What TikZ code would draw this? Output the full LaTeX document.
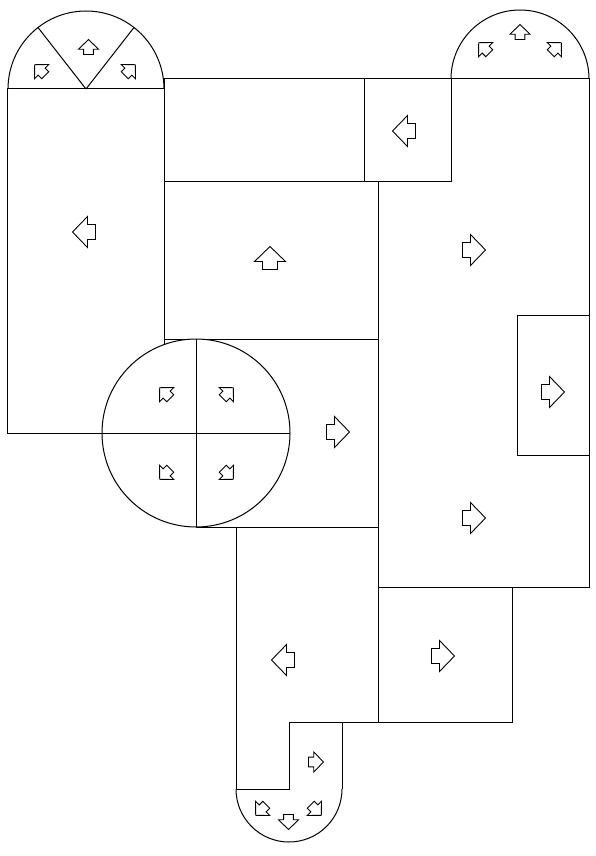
\documentclass[tikz,border=0pt]{standalone}
\begin{document}
\begin{tikzpicture}[x=1pt,y=-1pt,line width=1pt,line join=miter,
  arr/.pic={\draw[line width=0.9pt] (11.5,0) -- (-3.5,15.5) -- (-3.5,7.5) -- (-11.5,7.5) -- (-11.5,-7.5) -- (-3.5,-7.5) -- (-3.5,-15.5) -- cycle;},
  sm/.style={scale=0.65}]
\useasboundingbox[fill=white] (0,0) rectangle (595,856);
% left column and top-left half circle
\draw (7,89) rectangle (164,433);
\draw (164,89) arc[start angle=0,end angle=-180,radius=78];
\draw (86,89) -- (38,27.5);
\draw (86,89) -- (134,27.5);
% top row
\draw (164,79) rectangle (364,181);
\draw (364,79) rectangle (451,181);
% right region and half circle
\draw (451,79) -- (589,79) -- (589,587) -- (378,587) -- (378,181);
\draw (589,79) arc[start angle=0,end angle=-180,radius=69];
\draw (517,315) rectangle (589,455);
% middle
\draw (164,181) rectangle (378,339);
\draw (196,339) rectangle (378,527);
% lower
\draw (378,587) rectangle (512,722);
\draw (236,527) -- (236,789) -- (289,789) -- (289,722) -- (378,722);
\draw (342,722) -- (342,789);
\draw (342,789) arc[start angle=0,end angle=180,radius=53];
% circle
\draw[fill=white] (196,433) circle[radius=94];
\draw (196,339) -- (196,527);
\draw (102,433) -- (290,433);
% big arrows
\pic[rotate=180] at (84,232) {arr};
\pic[rotate=180] at (404,131) {arr};
\pic[rotate=90] at (270,258) {arr};
\pic at (474,250) {arr};
\pic at (553,392) {arr};
\pic at (338,432) {arr};
\pic at (474,518) {arr};
\pic at (443,656) {arr};
\pic[rotate=180] at (283,660) {arr};
% small arrows
\pic[sm,rotate=135] at (40,70) {arr};
\pic[sm,rotate=90] at (88.5,47) {arr};
\pic[sm,rotate=45] at (130,70) {arr};
\pic[sm,rotate=135] at (484,48) {arr};
\pic[sm,rotate=90] at (520,32) {arr};
\pic[sm,rotate=45] at (556,48) {arr};
\pic[sm,rotate=135] at (165,393) {arr};
\pic[sm,rotate=45] at (228,393) {arr};
\pic[sm,rotate=225] at (165,474) {arr};
\pic[sm,rotate=315] at (228,474) {arr};
\pic[sm] at (316,762) {arr};
\pic[sm,rotate=270] at (288.5,822) {arr};
\pic[sm,rotate=225] at (261,810) {arr};
\pic[sm,rotate=315] at (316,810) {arr};
\end{tikzpicture}
\end{document}
